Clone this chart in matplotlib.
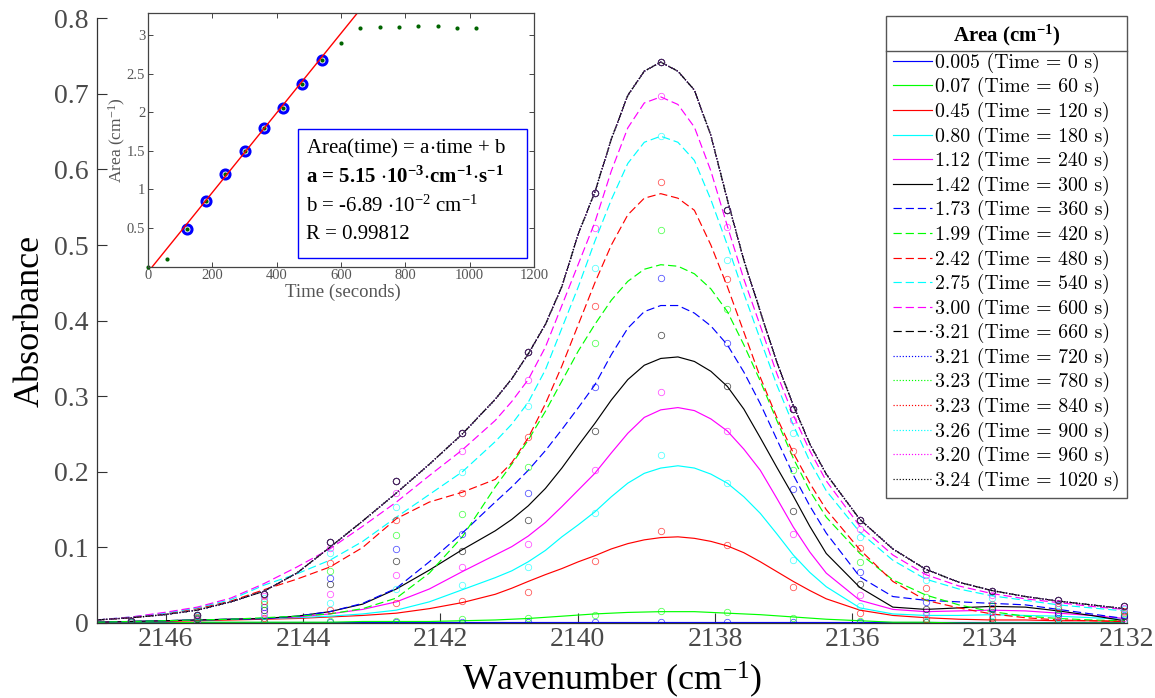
import numpy as np
import matplotlib.pyplot as plt
from matplotlib.patches import Rectangle
from matplotlib.lines import Line2D

plt.rcParams['font.family'] = ['Liberation Serif', 'DejaVu Serif']
plt.rcParams['mathtext.fontset'] = 'stix'
plt.rcParams['mathtext.default'] = 'regular'

# ---------------------------------------------------
times = [0, 60, 120, 180, 240, 300, 360, 420, 480, 540, 600, 660, 720, 780, 840, 900, 960, 1020]
areas = ['0.005', '0.07', '0.45', '0.80', '1.12', '1.42', '1.73', '1.99', '2.42', '2.75',
         '3.00', '3.21', '3.21', '3.23', '3.23', '3.26', '3.20', '3.24']

# measured spectra (circles)
wn_pts = [2146.50, 2145.54, 2144.57, 2143.61, 2142.64, 2141.68, 2140.72, 2139.75,
          2138.79, 2137.82, 2136.86, 2135.89, 2134.93, 2133.97, 2133.00, 2132.04]
pts_0s = [0.001] * 16
pts_60s = [0.001, 0.001, 0.002, 0.003, 0.003, 0.005, 0.006, 0.011, 0.016, 0.014, 0.006, 0.002, 0.001, 0.001, 0.001, 0.001]
pts_120s = [0.001, 0.002, 0.006, 0.017, 0.027, 0.029, 0.041, 0.082, 0.122, 0.103, 0.047, 0.013, 0.005, 0.006, 0.003, 0.002]
pts_180s = [0.001, 0.003, 0.009, 0.027, 0.045, 0.050, 0.074, 0.146, 0.222, 0.185, 0.083, 0.022, 0.011, 0.011, 0.006, 0.004]
pts_240s = [0.002, 0.004, 0.013, 0.039, 0.063, 0.074, 0.105, 0.202, 0.306, 0.254, 0.118, 0.037, 0.015, 0.015, 0.009, 0.007]
pts_300s = [0.002, 0.005, 0.017, 0.051, 0.082, 0.095, 0.136, 0.254, 0.381, 0.313, 0.148, 0.052, 0.019, 0.019, 0.012, 0.009]
pts_360s = [0.002, 0.006, 0.021, 0.059, 0.098, 0.118, 0.172, 0.312, 0.456, 0.370, 0.177, 0.067, 0.028, 0.020, 0.015, 0.011]
pts_420s = [0.003, 0.007, 0.025, 0.069, 0.117, 0.144, 0.207, 0.370, 0.520, 0.415, 0.203, 0.081, 0.035, 0.022, 0.018, 0.013]
pts_480s = [0.003, 0.008, 0.029, 0.080, 0.136, 0.172, 0.246, 0.420, 0.584, 0.455, 0.228, 0.099, 0.046, 0.025, 0.021, 0.016]
pts_540s = [0.003, 0.009, 0.033, 0.092, 0.154, 0.200, 0.287, 0.470, 0.644, 0.480, 0.251, 0.114, 0.057, 0.033, 0.024, 0.018]
pts_600s = [0.003, 0.010, 0.036, 0.099, 0.172, 0.228, 0.321, 0.523, 0.697, 0.524, 0.269, 0.124, 0.063, 0.037, 0.027, 0.020]
pts_plateau = [0.003, 0.011, 0.039, 0.107, 0.188, 0.252, 0.358, 0.569, 0.742, 0.546, 0.283, 0.136, 0.071, 0.042, 0.030, 0.022]

# fitted band profiles
wn_fit = [2147.00, 2146.50, 2146.02, 2145.54, 2145.05, 2144.57, 2144.09, 2143.61,
          2143.13, 2142.64, 2142.16, 2141.68,
          2141.20, 2140.96, 2140.72, 2140.47, 2140.23, 2139.99, 2139.75, 2139.51,
          2139.27, 2139.03, 2138.79, 2138.54, 2138.30, 2138.06, 2137.82, 2137.58,
          2137.34, 2137.10, 2136.86, 2136.62, 2136.38,
          2135.89, 2135.41, 2134.93, 2134.45, 2133.97, 2133.48, 2133.00, 2132.52, 2132.04]
fit_0s = [0.001] * 42
fit_60s = [0.000, 0.000, 0.000, 0.001, 0.001, 0.001, 0.001, 0.001, 0.002, 0.002, 0.002, 0.003,
           0.004, 0.005, 0.006, 0.0075, 0.009, 0.0105, 0.012, 0.013, 0.014, 0.0145, 0.015,
           0.015, 0.015, 0.014, 0.013, 0.012, 0.011, 0.0095, 0.008, 0.0065, 0.005,
           0.003, 0.001, 0.001, 0.000, 0.000, 0.000, 0.000, 0.000, 0.000]
fit_120s = [0.001, 0.002, 0.002, 0.003, 0.004, 0.005, 0.006, 0.008, 0.010, 0.013, 0.019, 0.027,
            0.038, 0.046, 0.055, 0.064, 0.072, 0.081, 0.089, 0.098, 0.105, 0.110, 0.113,
            0.114, 0.112, 0.108, 0.102, 0.093, 0.081, 0.068, 0.055, 0.043, 0.032,
            0.017, 0.010, 0.007, 0.005, 0.004, 0.004, 0.003, 0.003, 0.002]
fit_180s = [0.001, 0.002, 0.003, 0.004, 0.005, 0.006, 0.007, 0.009, 0.012, 0.017, 0.028, 0.044,
            0.060, 0.069, 0.081, 0.096, 0.114, 0.130, 0.147, 0.167, 0.185, 0.198, 0.205,
            0.208, 0.205, 0.197, 0.185, 0.167, 0.145, 0.118, 0.090, 0.067, 0.048,
            0.020, 0.012, 0.010, 0.010, 0.011, 0.010, 0.009, 0.007, 0.005]
fit_240s = [0.001, 0.002, 0.003, 0.004, 0.005, 0.006, 0.008, 0.012, 0.018, 0.028, 0.045, 0.068,
            0.090, 0.101, 0.115, 0.133, 0.154, 0.176, 0.198, 0.225, 0.251, 0.272, 0.282,
            0.285, 0.281, 0.270, 0.254, 0.230, 0.202, 0.165, 0.127, 0.094, 0.066,
            0.030, 0.018, 0.015, 0.016, 0.017, 0.016, 0.013, 0.010, 0.006]
fit_300s = [0.001, 0.002, 0.003, 0.004, 0.005, 0.006, 0.009, 0.015, 0.025, 0.045, 0.070, 0.097,
            0.122, 0.137, 0.155, 0.178, 0.205, 0.235, 0.264, 0.295, 0.322, 0.341, 0.350,
            0.352, 0.346, 0.333, 0.313, 0.283, 0.245, 0.206, 0.168, 0.128, 0.092,
            0.047, 0.021, 0.018, 0.020, 0.022, 0.021, 0.016, 0.010, 0.003]
fit_360s = [0.001, 0.002, 0.003, 0.004, 0.005, 0.006, 0.009, 0.015, 0.026, 0.046, 0.081, 0.119,
            0.160, 0.180, 0.202, 0.228, 0.256, 0.285, 0.315, 0.355, 0.390, 0.412, 0.420,
            0.420, 0.410, 0.393, 0.368, 0.332, 0.290, 0.243, 0.196, 0.155, 0.119,
            0.061, 0.035, 0.030, 0.028, 0.026, 0.024, 0.018, 0.012, 0.006]
fit_420s = [0.001, 0.002, 0.003, 0.004, 0.005, 0.007, 0.009, 0.012, 0.019, 0.033, 0.066, 0.114,
            0.180, 0.210, 0.242, 0.280, 0.320, 0.360, 0.395, 0.427, 0.452, 0.468, 0.474,
            0.472, 0.462, 0.442, 0.412, 0.368, 0.320, 0.268, 0.218, 0.175, 0.140,
            0.092, 0.057, 0.037, 0.024, 0.015, 0.009, 0.006, 0.004, 0.003]
fit_480s = [0.004, 0.007, 0.012, 0.019, 0.029, 0.044, 0.058, 0.074, 0.100, 0.138, 0.160, 0.173,
            0.190, 0.212, 0.245, 0.290, 0.340, 0.395, 0.450, 0.500, 0.540, 0.562, 0.568,
            0.562, 0.546, 0.500, 0.445, 0.385, 0.325, 0.272, 0.225, 0.185, 0.150,
            0.097, 0.055, 0.030, 0.020, 0.012, 0.007, 0.004, 0.003, 0.002]
fit_540s = [0.004, 0.008, 0.013, 0.020, 0.031, 0.050, 0.065, 0.083, 0.108, 0.140, 0.170, 0.200,
            0.240, 0.263, 0.292, 0.335, 0.390, 0.445, 0.505, 0.560, 0.608, 0.636, 0.644,
            0.636, 0.612, 0.560, 0.500, 0.436, 0.375, 0.315, 0.262, 0.214, 0.175,
            0.120, 0.083, 0.058, 0.045, 0.036, 0.030, 0.024, 0.020, 0.016]
fit_600s = [0.004, 0.008, 0.014, 0.021, 0.033, 0.052, 0.074, 0.098, 0.128, 0.160, 0.195, 0.229,
            0.268, 0.293, 0.322, 0.365, 0.420, 0.475, 0.530, 0.598, 0.655, 0.688, 0.696,
            0.686, 0.656, 0.598, 0.525, 0.455, 0.393, 0.330, 0.275, 0.228, 0.188,
            0.128, 0.090, 0.064, 0.049, 0.039, 0.032, 0.027, 0.022, 0.018]
fit_plateau = [0.004, 0.007, 0.011, 0.017, 0.028, 0.042, 0.066, 0.100, 0.135, 0.172, 0.210, 0.250,
               0.296, 0.323, 0.356, 0.395, 0.445, 0.515, 0.570, 0.640, 0.698, 0.730, 0.742,
               0.730, 0.705, 0.645, 0.560, 0.480, 0.412, 0.345, 0.288, 0.237, 0.197,
               0.137, 0.098, 0.071, 0.054, 0.043, 0.035, 0.029, 0.024, 0.019]

# inset: integrated area vs time
inset_area = [0.0, 0.095, 0.49, 0.85, 1.20, 1.50, 1.80, 2.06, 2.37, 2.67,
              2.89, 3.09, 3.105, 3.10, 3.11, 3.12, 3.085, 3.09]
lin_first, lin_last = 2, 9          # points used for the linear fit (120 s .. 540 s)
slope, intercept = 5.15e-3, -6.89e-2
# ---------------------------------------------------

fits = [fit_0s, fit_60s, fit_120s, fit_180s, fit_240s, fit_300s, fit_360s,
        fit_420s, fit_480s, fit_540s, fit_600s] + [fit_plateau] * 7
pts = [pts_0s, pts_60s, pts_120s, pts_180s, pts_240s, pts_300s, pts_360s,
       pts_420s, pts_480s, pts_540s, pts_600s] + [pts_plateau] * 7

colors = ['#0000ff', '#00ff00', '#ff0000', '#00ffff', '#ff00ff', '#000000']
styles = ['-'] * 6 + [(0, (7, 3.3))] * 6 + [(0, (1, 1.6))] * 6

fig = plt.figure(figsize=(11.55, 6.98), dpi=100)
W, H = 1155, 698
ax = fig.add_axes([97 / W, 1 - 623 / H, (1127 - 97) / W, (623 - 18.3) / H])

handles = []
for i, t in enumerate(times):
    c = colors[i % 6]
    ln, = ax.plot(wn_fit, fits[i], color=c, ls=styles[i], lw=0.85,
                  label=f'{areas[i]} (Time = {t} s)')
    handles.append(ln)
for i, t in enumerate(times):
    c = colors[i % 6]
    ax.plot(wn_pts, pts[i], 'o', mfc='none', mec=c, ms=4.6, mew=0.6, alpha=0.65)

ax.set_xlim(2147, 2132)
ax.set_ylim(0, 0.8)
ax.set_xticks([2146, 2144, 2142, 2140, 2138, 2136, 2134, 2132])
ax.set_yticks(np.arange(0, 0.81, 0.1))
ax.set_yticklabels(['0', '0.1', '0.2', '0.3', '0.4', '0.5', '0.6', '0.7', '0.8'])
ax.tick_params(direction='in', length=7.5, width=0.8, labelsize=20,
               labelcolor='#4a4a4a', color='#333333')
ax.tick_params(axis='x', pad=3)
ax.tick_params(axis='y', pad=6)
for s in ['top', 'right']:
    ax.spines[s].set_visible(False)
for s in ['left', 'bottom']:
    ax.spines[s].set_color('#333333')
    ax.spines[s].set_linewidth(0.9)

ax.set_xlabel('Wavenumber (cm$^{-1}$)', fontsize=26, va='center')
ax.xaxis.set_label_coords(0.5, -0.094)
ax.set_ylabel('Absorbance', fontsize=26, va='center')
ax.yaxis.set_label_coords(-0.065, 0.5)

leg = ax.legend(handles=handles, loc='upper right',
                bbox_to_anchor=(1127 / W, 1 - 16 / H), bbox_transform=fig.transFigure,
                borderaxespad=0, prop={'family': 'cmr10', 'size': 14.3},
                title='Area (cm$^{-1}$)', title_fontproperties={'family': 'Liberation Serif',
                                                               'weight': 'bold', 'size': 15},
                handlelength=2.0, handletextpad=0.15, labelspacing=0.225,
                borderpad=0.35, fancybox=False, framealpha=1, edgecolor='#555555')
leg.get_frame().set_linewidth(1.0)

# inset
axi = fig.add_axes([148 / W, 1 - 266.7 / H, (534 - 148) / W, (266.7 - 13.3) / H])
axi.plot(times, inset_area, 'o', color='#006400', ms=3, mew=0, clip_on=False)
axi.plot(times[lin_first:lin_last + 1], inset_area[lin_first:lin_last + 1], 'o',
         mfc='none', mec='#0000ff', ms=6.5, mew=2.2)
axi.axline((0, intercept), slope=slope, color='#ff0000', lw=1)
axi.set_xlim(0, 1200)
axi.set_ylim(0, 3.28)
axi.set_xticks(range(0, 1201, 200))
axi.set_yticks([0.5, 1, 1.5, 2, 2.5, 3])
axi.set_yticklabels(['0.5', '1', '1.5', '2', '2.5', '3'])
axi.tick_params(direction='in', length=3.5, width=0.7, labelsize=10.5, labelcolor='#555555',
                color='#444444', top=True, right=True, pad=2)
for s in axi.spines.values():
    s.set_color('#444444')
    s.set_linewidth(0.9)
axi.set_xlabel('Time (seconds)', fontsize=13.5, color='#555555', va='center')
axi.xaxis.set_label_coords(0.505, -0.103)
axi.set_ylabel('Area (cm$^{-1}$)', fontsize=12.5, color='#555555', va='center')
axi.yaxis.set_label_coords(-0.078, 0.5)

axi.add_patch(Rectangle((0.389, 0.034), 0.593, 0.509, transform=axi.transAxes,
                        fill=True, facecolor='white', edgecolor='#0000ff', lw=1, zorder=5))
box_lines = [('Area(time) = a$\\cdot$time + b', 'normal'),
             ('a = 5.15 $\\cdot$10$^{-3}$$\\cdot$cm$^{-1}$$\\cdot$s$^{-1}$', 'bold'),
             ('b = -6.89 $\\cdot$10$^{-2}$ cm$^{-1}$', 'normal'),
             ('R = 0.99812', 'normal')]
for j, (txt, wt) in enumerate(box_lines):
    axi.text(0.41, 0.465 - j * 0.113, txt, transform=axi.transAxes, fontsize=15,
             weight=wt, va='center', ha='left', zorder=6)

# separator under the legend title
fig.canvas.draw()
fb = leg.get_frame().get_window_extent()
tb = leg.get_title().get_window_extent()
inv = fig.transFigure.inverted()
(x0, ys), (x1, _) = inv.transform([(fb.x0, tb.y0 - 3), (fb.x1, tb.y0 - 3)])
fig.add_artist(Line2D([x0, x1], [ys, ys], transform=fig.transFigure, color='#555555', lw=1.0))

fig.savefig('out.png', dpi=100)
